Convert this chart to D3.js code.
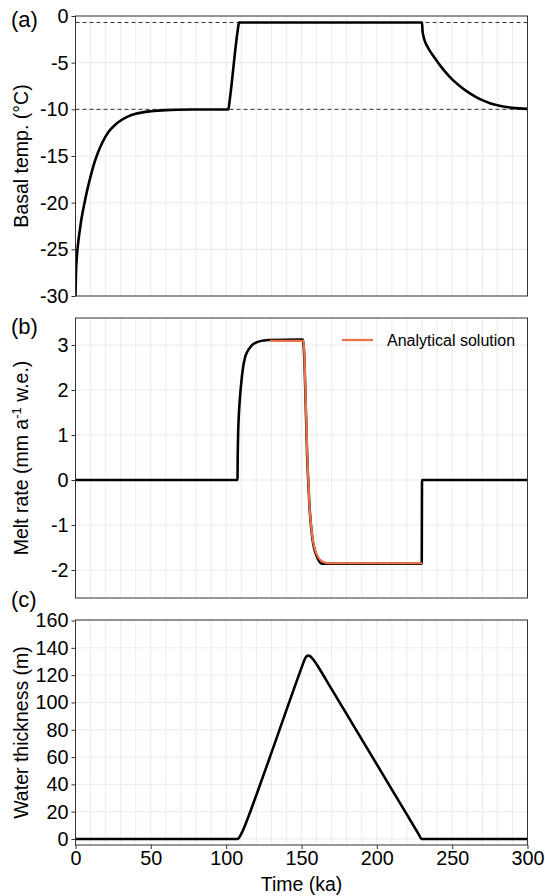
<!DOCTYPE html>
<html><head><meta charset="utf-8">
<script src="https://cdn.jsdelivr.net/npm/d3@7/dist/d3.min.js"></script>
<style>
body{margin:0;background:#fff}
svg{display:block}
text{font-family:"Liberation Sans",Arial,Helvetica,sans-serif;fill:#000}
</style>
</head><body>
<svg id="chart" width="545" height="896"></svg>
<script>
// ---------- data ----------
const timeTicks = [0, 50, 100, 150, 200, 250, 300];
const tempTicks = [0, -5, -10, -15, -20, -25, -30];
const meltTicks = [-2, -1, 0, 1, 2, 3];
const waterTicks = [0, 20, 40, 60, 80, 100, 120, 140, 160];
const refTemps = [-0.7, -10];

const tempTime  = [0, 0.3, 1, 2, 3, 4, 5, 6, 8, 10, 12, 15, 18, 22, 26, 30, 35, 40, 50, 60, 80, 101.5, 102.2, 107.8, 108.5,
                   230, 230.3, 231, 232, 233.5, 235, 237.5, 240, 242.5, 245, 250, 255, 260, 265, 270, 275, 280, 290, 300];
const tempValue = [-30, -27.6, -25.6, -24, -22.8, -21.7, -20.8, -20, -18.5, -17.2, -16, -14.6, -13.5, -12.4, -11.7, -11.2, -10.76, -10.48, -10.2, -10.08, -10.02, -10, -9.2, -1.4, -0.7,
                   -0.7, -1.54, -2.19, -2.75, -3.26, -3.68, -4.28, -4.84, -5.4, -5.91, -6.79, -7.49, -8.1, -8.6, -9.02, -9.34, -9.57, -9.84, -9.95];

const meltTime  = [0, 107.5, 107.7, 108, 108.5, 109.2, 110, 111, 112.5, 114, 116, 118, 121, 125, 128, 150.9, 151.5, 152, 152.6, 153.2, 153.8, 154.3, 154.8, 155.1, 155.8, 156.4, 157.5, 159.1, 161, 162.5, 164, 229.8, 230, 300];
const meltValue = [0, 0, 0.6, 1.1, 1.5, 1.85, 2.15, 2.45, 2.72, 2.85, 2.95, 3.02, 3.07, 3.1, 3.11, 3.12, 2.95, 2.6, 1.9, 1.2, 0.5, 0.1, -0.25, -0.46, -0.82, -1.04, -1.36, -1.6, -1.76, -1.84, -1.86, -1.86, 0, 0];

const analyticTime  = [129, 151.4, 152, 152.6, 153.2, 153.8, 154.3, 154.8, 155.1, 155.8, 156.4, 157.5, 159.1, 161, 163, 165, 167, 230];
const analyticValue = [3.09, 3.09, 2.7, 2.0, 1.3, 0.6, 0.15, -0.2, -0.44, -0.8, -1.02, -1.33, -1.56, -1.71, -1.79, -1.83, -1.85, -1.85];

const waterTime  = [0, 107.5, 107.7, 108, 108.5, 109.2, 110, 111, 112.5, 114, 116, 118, 121, 125, 128, 150.9, 151.5, 152, 152.6, 153.2, 153.8, 154.6,
                    155.1, 155.8, 156.4, 157.5, 159.1, 161, 162.5, 164, 170, 180, 190, 200, 210, 220, 228, 229.6, 300];
const waterValue = [0, 0, 0.06, 0.31, 0.96, 2.16, 3.76, 6.06, 9.94, 14.18, 20.0, 25.97, 35.16, 47.5, 56.8, 128.1, 129.9, 131.3, 132.65, 133.6, 134.1, 134.3,
                    134.19, 133.74, 133.18, 131.86, 129.49, 126.3, 123.6, 120.83, 109.8, 91.4, 73.0, 54.6, 36.2, 17.8, 3.0, 0, 0];

// ---------- layout ----------
const svg = d3.select("#chart");
const x = d3.scaleLinear().domain([0, 300]).range([75.5, 527.5]);
const gridTimes = d3.range(0, 301, 10);
const fmt = d => String(d);

const panels = [
  {id: "a", tag: "(a)", tagY: 27, y: d3.scaleLinear().domain([-30, 0]).range([296, 16]), ticks: tempTicks, title: "Basal temp. (°C)"},
  {id: "b", tag: "(b)", tagY: 334, y: d3.scaleLinear().domain([-2.622, 3.6]).range([598, 318]), ticks: meltTicks, title: null},
  {id: "c", tag: "(c)", tagY: 607, y: d3.scaleLinear().domain([-4.4, 160.4]).range([845, 620]), ticks: waterTicks, title: "Water thickness (m)"}
];

const zip = (t, v) => t.map((d, i) => [d, v[i]]);

panels.forEach(p => {
  const [y0, y1] = p.y.range();
  const top = y1, bottom = y0;
  const g = svg.append("g");
  g.append("clipPath").attr("id", "clip" + p.id)
    .append("rect").attr("x", x(0)).attr("y", top).attr("width", x(300) - x(0)).attr("height", bottom - top);

  g.selectAll(".vg").data(gridTimes).join("line")
    .attr("x1", d => x(d)).attr("x2", d => x(d)).attr("y1", top).attr("y2", bottom)
    .attr("stroke", "#ebebeb").attr("stroke-width", 1);
  g.selectAll(".hg").data(p.ticks).join("line")
    .attr("x1", x(0)).attr("x2", x(300)).attr("y1", d => p.y(d)).attr("y2", d => p.y(d))
    .attr("stroke", "#ebebeb").attr("stroke-width", 1);

  const ax = g.append("g").attr("transform", `translate(${x(0)},0)`)
    .call(d3.axisLeft(p.y).tickValues(p.ticks).tickSize(4).tickPadding(3).tickFormat(fmt));
  ax.select(".domain").remove();
  ax.selectAll(".tick line").attr("stroke", "#333");
  ax.selectAll(".tick text").attr("font-size", 19.8).attr("fill", "#000").attr("font-family", '"Liberation Sans",Arial,sans-serif');

  g.append("text").attr("x", 11).attr("y", p.tagY).attr("font-size", 22).text(p.tag);

  p.g = g;
  p.top = top; p.bottom = bottom;
});

const line = (ys) => d3.line().x(d => x(d[0])).y(d => ys(d[1])).curve(d3.curveMonotoneX);

// panel a
const pa = panels[0];
const ga = pa.g.append("g").attr("clip-path", "url(#clipa)");
ga.selectAll(".ref").data(refTemps).join("line")
  .attr("x1", x(0)).attr("x2", x(300)).attr("y1", d => pa.y(d)).attr("y2", d => pa.y(d))
  .attr("stroke", "#333").attr("stroke-width", 1).attr("stroke-dasharray", "4,3");
ga.append("path").datum(zip(tempTime, tempValue)).attr("d", line(pa.y))
  .attr("fill", "none").attr("stroke", "#000").attr("stroke-width", 2.6);

// panel b
const pb = panels[1];
const gb = pb.g.append("g").attr("clip-path", "url(#clipb)");
gb.append("path").datum(zip(meltTime, meltValue)).attr("d", line(pb.y))
  .attr("fill", "none").attr("stroke", "#000").attr("stroke-width", 2.6);
gb.append("path").datum(zip(analyticTime, analyticValue)).attr("d", line(pb.y))
  .attr("fill", "none").attr("stroke", "#ef7148").attr("stroke-width", 2.2);
pb.g.append("line").attr("x1", 342).attr("x2", 373).attr("y1", 340).attr("y2", 340)
  .attr("stroke", "#ef7148").attr("stroke-width", 2.2);
pb.g.append("text").attr("x", 387).attr("y", 345.6).attr("font-size", 16).text("Analytical solution");

// panel c
const pc = panels[2];
const gc = pc.g.append("g").attr("clip-path", "url(#clipc)");
gc.append("path").datum(zip(waterTime, waterValue)).attr("d", line(pc.y))
  .attr("fill", "none").attr("stroke", "#000").attr("stroke-width", 2.6);

const xa = pc.g.append("g").attr("transform", `translate(0,${pc.bottom})`)
  .call(d3.axisBottom(x).tickValues(timeTicks).tickSize(4).tickPadding(2).tickFormat(fmt));
xa.select(".domain").remove();
xa.selectAll(".tick line").attr("stroke", "#333");
xa.selectAll(".tick text").attr("font-size", 19.8).attr("fill", "#000").attr("font-family", '"Liberation Sans",Arial,sans-serif');

panels.forEach(p => {
  p.g.append("rect").attr("x", x(0)).attr("y", p.top).attr("width", x(300) - x(0)).attr("height", p.bottom - p.top)
    .attr("fill", "none").attr("stroke", "#333").attr("stroke-width", 1);
});

const yTitle = (cy, build) => {
  const t = svg.append("text").attr("transform", `translate(28,${cy}) rotate(-90)`)
    .attr("text-anchor", "middle").attr("font-size", 19.5);
  build(t);
};
yTitle((pa.top + pa.bottom) / 2, t => t.text(pa.title));
yTitle((pb.top + pb.bottom) / 2, t => {
  t.append("tspan").text("Melt rate (mm a");
  t.append("tspan").attr("dy", -7).attr("font-size", 13).text("-1");
  t.append("tspan").attr("dy", 7).text(" w.e.)");
});
yTitle((pc.top + pc.bottom) / 2, t => t.text(pc.title));

svg.append("text").attr("x", (x(0) + x(300)) / 2).attr("y", 891).attr("text-anchor", "middle")
  .attr("font-size", 19.5).text("Time (ka)");
</script>
</body></html>
